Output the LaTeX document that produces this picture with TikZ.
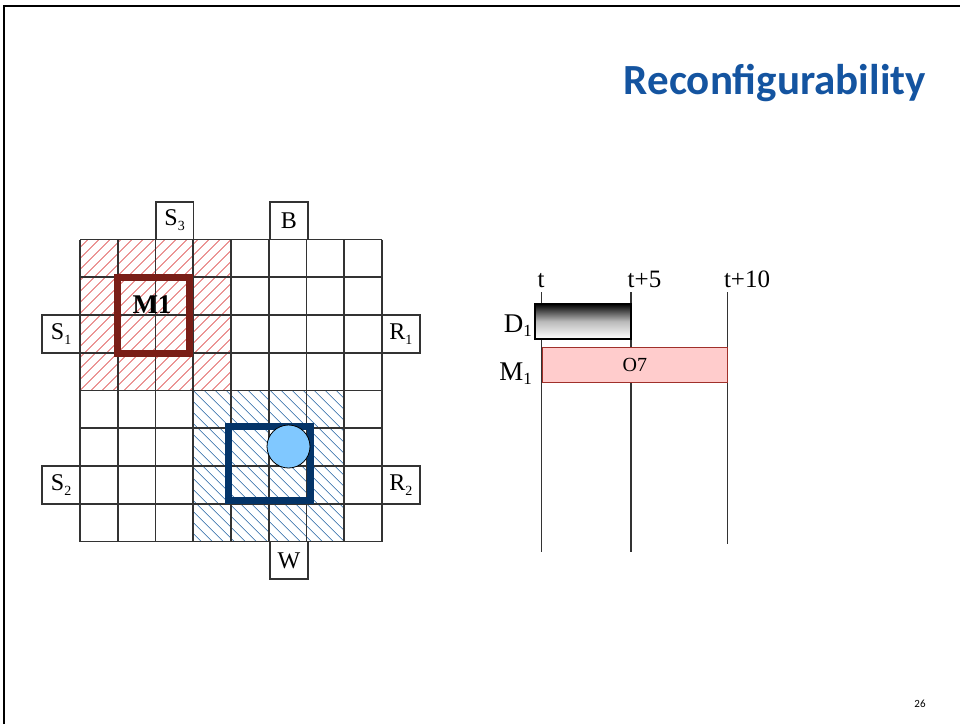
\documentclass[tikz,border=0pt]{standalone}
\usepackage{fontspec}
\setmainfont{Liberation Serif}
\newfontfamily\titlefont{Carlito}
\definecolor{titleblue}{RGB}{20,84,160}
\definecolor{mred}{RGB}{122,30,23}
\definecolor{mblue}{RGB}{4,52,104}
\definecolor{circblue}{RGB}{128,200,255}
\definecolor{barpink}{RGB}{255,204,204}
\definecolor{barred}{RGB}{160,48,42}
\definecolor{gridgray}{RGB}{51,51,51}
\definecolor{hatchred}{RGB}{215,40,40}
\definecolor{hatchblue}{RGB}{30,95,160}
\newcommand\lsub[1]{\raisebox{-5pt}{\fontsize{14}{14}\selectfont #1}}
\newcommand\rsub[1]{\raisebox{-4pt}{\fontsize{17}{17}\selectfont #1}}
\tikzset{
  gridline/.style={draw=gridgray, line width=1.8pt},
  lbox/.style={draw=gridgray, line width=1.6pt, fill=white, minimum width=37.75pt, minimum height=37.75pt, inner sep=0pt, font=\fontsize{24}{24}\selectfont},
  redhatch/.style={draw=hatchred, line width=0.45pt},
  bluehatch/.style={draw=hatchblue, line width=0.45pt},
  machbox/.style={line width=7pt},
  tline/.style={draw=gridgray, line width=1.2pt},
  tlabel/.style={font=\fontsize{25}{25}\selectfont, inner sep=0pt},
  rowlabel/.style={font=\fontsize{27}{27}\selectfont, inner sep=0pt, anchor=base east},
}
\begin{document}
\begin{tikzpicture}[x=1pt,y=-1pt]
\useasboundingbox (0,0) rectangle (960,724);
% slide frame
\draw[line width=2.5pt] (4,724) -- (4,6) -- (960,6);
% title
\node[anchor=base east, inner sep=0pt, text=titleblue, font=\titlefont\bfseries\fontsize{43}{43}\selectfont] (title) at (926,94) {Reconfigurability};
\node[anchor=base, inner sep=0pt, font=\titlefont\fontsize{11}{11}\selectfont] (pagenum) at (920,707) {26};
% hatching
\begin{scope}
  \clip (80,239.5) rectangle (231,390.5);
  \foreach \i [evaluate=\i as \x using 80+\i*11] in {-15,...,15}
    \draw[redhatch] (\x,390.5) -- ++(160,-160);
\end{scope}
\begin{scope}
  \clip (193.25,390.5) rectangle (344.25,541.5);
  \foreach \i [evaluate=\i as \x using 193.25+\i*11] in {-15,...,15}
    \draw[bluehatch] (\x,390.5) -- ++(160,160);
\end{scope}
% grid
\foreach \k [evaluate=\k as \p using 80+\k*37.75] in {0,...,8}
  \draw[gridline] (\p,239.5) -- (\p,541.5);
\foreach \k [evaluate=\k as \q using 239.5+\k*37.75] in {0,...,8}
  \draw[gridline] (80,\q) -- (382,\q);
% boundary boxes
\node[lbox] (s3) at (174.6,220.6) {S\lsub{3}};
\node[lbox] (b) at (288.9,220.6) {B};
\node[lbox] (s1) at (61.1,333.9) {S\lsub{1}};
\node[lbox] (r1) at (400.9,333.9) {R\lsub{1}};
\node[lbox] (s2) at (61.1,484.9) {S\lsub{2}};
\node[lbox] (r2) at (400.9,484.9) {R\lsub{2}};
\node[lbox] (w) at (288.9,560.4) {W};
% machine M1
\draw[machbox, draw=mred] (117.5,277.5) rectangle (189.5,353.5);
\node[inner sep=0pt, anchor=base, font=\bfseries\fontsize{27}{27}\selectfont] (m1) at (152,313) {M1};
% second machine and robot
\draw[machbox, draw=mblue] (228.5,426) rectangle (310,500.5);
\node[circle, draw=black, line width=0.8pt, fill=circblue, minimum size=43pt, inner sep=0pt] (robot) at (288.5,446.5) {};
% timeline
\coordinate (t0top) at (541.5,292);
\coordinate (t0bot) at (541.5,552);
\coordinate (t5top) at (631,292);
\coordinate (t5bot) at (631,552);
\coordinate (t10top) at (727.3,292);
\coordinate (t10bot) at (727.3,544);
\draw[tline] (t0top) -- (t0bot);
\draw[tline] (t5top) -- (t5bot);
\draw[tline] (t10top) -- (t10bot);
\node[tlabel, anchor=base] (lt0) at (541,287) {t};
\node[tlabel, anchor=base west] (lt5) at (627.5,287) {t+5};
\node[tlabel, anchor=base west] (lt10) at (723.8,287) {t+10};
\node[draw=black, line width=1.5pt, top color=black, bottom color=white, middle color=gray!55, minimum width=96pt, minimum height=35pt, inner sep=0pt, anchor=north west] (d1bar) at (534,303) {};
\node[draw=barred, line width=1pt, fill=barpink, minimum width=185.8pt, minimum height=35pt, inner sep=0pt, anchor=north west, font=\fontsize{20}{20}\selectfont] (m1bar) at (541.5,347) {O7};
\node[rowlabel] (ld1) at (532,332) {D\rsub{1}};
\node[rowlabel] (lm1) at (532,380) {M\rsub{1}};
\end{tikzpicture}
\end{document}
